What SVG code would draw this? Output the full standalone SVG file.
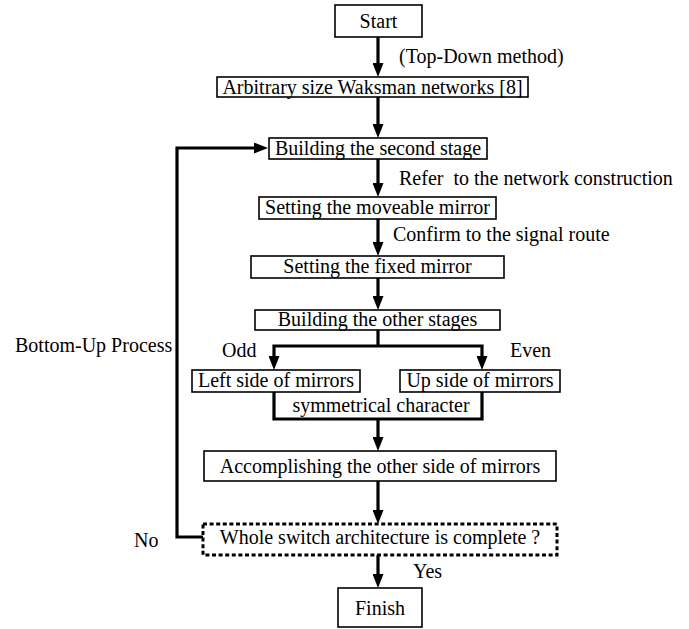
<svg xmlns="http://www.w3.org/2000/svg" width="689" height="629" viewBox="0 0 689 629">
<defs>
<style>
.box{fill:#fff;stroke:#000;stroke-width:1.6}
.dash{fill:#fff;stroke:#000;stroke-width:3;stroke-dasharray:4 2.6}
.t{font-family:"Liberation Serif","Times New Roman",serif;font-size:20px;fill:#000}
.c{text-anchor:middle}
.con{fill:none;stroke:#000;stroke-width:3.2}
</style>
<marker id="ah" viewBox="0 0 14 11" refX="6" refY="5.5" markerWidth="14" markerHeight="11" markerUnits="userSpaceOnUse" orient="auto">
<path d="M0,0 L14,5.5 L0,11 z" fill="#000"/>
</marker>
</defs>
<rect width="689" height="629" fill="#fff"/>
<g id="connectors">
<path class="con" d="M378,37 V69" marker-end="url(#ah)"/>
<path class="con" d="M378,97 V130" marker-end="url(#ah)"/>
<path class="con" d="M378,159 V189" marker-end="url(#ah)"/>
<path class="con" d="M378,219 V248" marker-end="url(#ah)"/>
<path class="con" d="M378,278 V302" marker-end="url(#ah)"/>
<path class="con" d="M378,330 V346"/>
<path class="con" d="M378,346 H274 V362" marker-end="url(#ah)"/>
<path class="con" d="M378,346 H482 V362" marker-end="url(#ah)"/>
<path class="con" d="M274,392 V419 H482 V392"/>
<path class="con" d="M378,419 V443" marker-end="url(#ah)"/>
<path class="con" d="M378,481 V516" marker-end="url(#ah)"/>
<path class="con" d="M378,555 V580" marker-end="url(#ah)"/>
<path class="con" d="M203,537 H177 V148 H260" marker-end="url(#ah)"/>
</g>
<g id="start"><rect class="box" x="335" y="5" width="87" height="32"/><text class="t c" x="378.5" y="28">Start</text></g>
<g id="topdown-label"><text class="t" x="399" y="63">(Top-Down method)</text></g>
<g id="waksman"><rect class="box" x="217" y="77" width="311" height="20"/><text class="t c" x="372.5" y="94">Arbitrary size Waksman networks [8]</text></g>
<g id="second-stage"><rect class="box" x="269" y="138" width="218" height="21"/><text class="t c" x="378" y="155">Building the second stage</text></g>
<g id="refer-label"><text class="t" x="399" y="185" xml:space="preserve">Refer  to the network construction</text></g>
<g id="moveable"><rect class="box" x="259" y="197" width="237" height="22"/><text class="t c" x="377.5" y="214">Setting the moveable mirror</text></g>
<g id="confirm-label"><text class="t" x="393" y="241">Confirm to the signal route</text></g>
<g id="fixed"><rect class="box" x="251" y="256" width="253" height="22"/><text class="t c" x="377.5" y="273">Setting the fixed mirror</text></g>
<g id="other-stages"><rect class="box" x="255" y="310" width="245" height="20"/><text class="t c" x="377.5" y="326">Building the other stages</text></g>
<g id="bottomup-label"><text class="t" x="15" y="352">Bottom-Up Process</text></g>
<g id="odd-label"><text class="t" x="222" y="357">Odd</text></g>
<g id="even-label"><text class="t" x="510" y="357">Even</text></g>
<g id="left-side"><rect class="box" x="192" y="370" width="168" height="22"/><text class="t c" x="276" y="387">Left side of mirrors</text></g>
<g id="up-side"><rect class="box" x="400" y="370" width="160" height="22"/><text class="t c" x="480" y="387">Up side of mirrors</text></g>
<g id="symmetrical-label"><text class="t c" x="381" y="412">symmetrical character</text></g>
<g id="accomplish"><rect class="box" x="204" y="451" width="352" height="30"/><text class="t c" x="380" y="473">Accomplishing the other side of mirrors</text></g>
<g id="complete"><rect class="dash" x="203" y="524" width="354" height="31"/><text class="t c" x="380" y="544">Whole switch architecture is complete ?</text></g>
<g id="no-label"><text class="t" x="134" y="547">No</text></g>
<g id="yes-label"><text class="t" x="413" y="578">Yes</text></g>
<g id="finish"><rect class="box" x="338" y="588" width="84" height="39"/><text class="t c" x="380" y="615">Finish</text></g>
</svg>
